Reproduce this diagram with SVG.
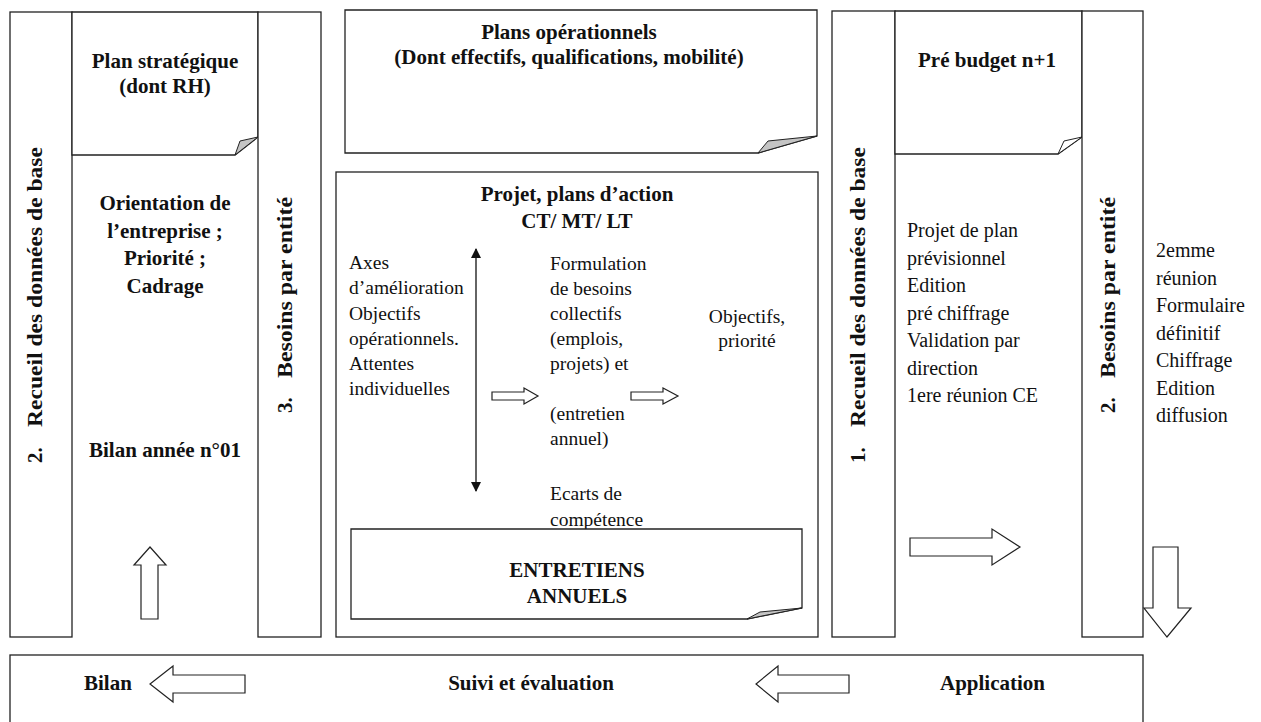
<svg xmlns="http://www.w3.org/2000/svg" width="1261" height="722" viewBox="0 0 1261 722">
<style>
.box{fill:#fff;stroke:#222;stroke-width:1.3}
.curl{fill:#c4c4c4;stroke:#222;stroke-width:1}
.curlw{fill:#fff;stroke:#222;stroke-width:1}
.harrow{fill:#fff;stroke:#222;stroke-width:1.2}
.b{font-family:"Liberation Serif","Times New Roman",serif;font-weight:bold;font-size:21px;fill:#111}
.r{font-family:"Liberation Serif","Times New Roman",serif;font-size:20px;fill:#111}
.rc{font-family:"Liberation Serif","Times New Roman",serif;font-size:19.5px;fill:#111}
.c{text-anchor:middle}
</style>
<defs>
<marker id="ah" viewBox="0 0 10 12" refX="9" refY="6" markerWidth="10" markerHeight="12" markerUnits="userSpaceOnUse" orient="auto-start-reverse">
<path d="M0,1 L10,6 L0,11 Z" fill="#111"/>
</marker>
</defs>
<rect width="1261" height="722" fill="#fff"/>

<g id="left-col1">
<rect class="box" x="10" y="12" width="62" height="625"/>
<text class="b" transform="translate(42,463) rotate(-90)">2.</text>
<text class="b" transform="translate(42,427) rotate(-90)" textLength="280" lengthAdjust="spacingAndGlyphs">Recueil des données de base</text>
</g>

<g id="left-middle">
<path class="box" d="M72,12 H258 V137 L235,155 H72 Z"/>
<path class="curl" d="M235,155 L240,141 L258,137 Z"/>
<text class="b c" x="165" y="68">Plan stratégique</text>
<text class="b c" x="165" y="93">(dont RH)</text>
<text class="b c" x="165" y="210">Orientation de</text>
<text class="b c" x="165" y="238">l’entreprise ;</text>
<text class="b c" x="165" y="265">Priorité ;</text>
<text class="b c" x="165" y="293">Cadrage</text>
<text class="b c" x="165" y="457">Bilan année n°01</text>
<path class="harrow" d="M150,547 L166,565 H158 V619 H141 V565 H134 Z"/>
</g>

<g id="left-col3">
<rect class="box" x="258" y="12" width="63" height="625"/>
<text class="b" transform="translate(292,413) rotate(-90)">3.</text>
<text class="b" transform="translate(292,378) rotate(-90)" textLength="181" lengthAdjust="spacingAndGlyphs">Besoins par entité</text>
</g>

<g id="plans-operationnels">
<path class="box" d="M345,10 H817 V136 L758,153 H345 Z"/>
<path class="curl" d="M758,153 L768,141 L817,136 Z"/>
<text class="b c" x="569" y="39">Plans opérationnels</text>
<text class="b c" x="569" y="64">(Dont effectifs, qualifications, mobilité)</text>
</g>

<g id="projet-plans">
<rect class="box" x="336" y="172" width="482" height="465"/>
<text class="b c" x="577" y="201">Projet, plans d’action</text>
<text class="b c" x="577" y="228">CT/ MT/ LT</text>
<text class="rc" x="349" y="269">Axes</text>
<text class="rc" x="349" y="294">d’amélioration</text>
<text class="rc" x="349" y="320">Objectifs</text>
<text class="rc" x="349" y="345">opérationnels.</text>
<text class="rc" x="349" y="370">Attentes</text>
<text class="rc" x="349" y="395">individuelles</text>
<text class="rc" x="550" y="270">Formulation</text>
<text class="rc" x="550" y="295">de besoins</text>
<text class="rc" x="550" y="320">collectifs</text>
<text class="rc" x="550" y="345">(emplois,</text>
<text class="rc" x="550" y="370">projets) et</text>
<text class="rc" x="550" y="420">(entretien</text>
<text class="rc" x="550" y="445">annuel)</text>
<text class="rc" x="550" y="500">Ecarts de</text>
<text class="rc" x="550" y="526">compétence</text>
<text class="rc c" x="747" y="323">Objectifs,</text>
<text class="rc c" x="747" y="347">priorité</text>
</g>

<g id="entretiens">
<path class="box" d="M351,529 H802 V608 L747,619 H351 Z"/>
<path class="curl" d="M747,619 L760,612 L802,608 Z"/>
<text class="b c" x="577" y="577">ENTRETIENS</text>
<text class="b c" x="577" y="603">ANNUELS</text>
</g>

<g id="right-col1">
<rect class="box" x="832" y="11" width="63" height="626"/>
<text class="b" transform="translate(865,463) rotate(-90)">1.</text>
<text class="b" transform="translate(865,427) rotate(-90)" textLength="280" lengthAdjust="spacingAndGlyphs">Recueil des données de base</text>
</g>

<g id="right-middle">
<path class="box" d="M895,11 H1082 V137 L1058,154 H895 Z"/>
<path class="curlw" d="M1058,154 L1064,141 L1082,137 Z"/>
<text class="b c" x="987" y="67">Pré budget n+1</text>
<text class="r" x="907" y="237">Projet de plan</text>
<text class="r" x="907" y="264.5">prévisionnel</text>
<text class="r" x="907" y="292">Edition</text>
<text class="r" x="907" y="319.5">pré chiffrage</text>
<text class="r" x="907" y="347">Validation par</text>
<text class="r" x="907" y="374.5">direction</text>
<text class="r" x="907" y="402">1ere réunion CE</text>
</g>

<g id="right-col3">
<rect class="box" x="1082" y="11" width="61" height="626"/>
<text class="b" transform="translate(1115,413) rotate(-90)">2.</text>
<text class="b" transform="translate(1115,378) rotate(-90)" textLength="181" lengthAdjust="spacingAndGlyphs">Besoins par entité</text>
</g>

<g id="right-notes">
<text class="r" x="1156" y="257">2emme</text>
<text class="r" x="1156" y="284.5">réunion</text>
<text class="r" x="1156" y="312">Formulaire</text>
<text class="r" x="1156" y="339.5">définitif</text>
<text class="r" x="1156" y="367">Chiffrage</text>
<text class="r" x="1156" y="394.5">Edition</text>
<text class="r" x="1156" y="422">diffusion</text>
</g>

<g id="suivi-bar">
<rect class="box" x="10" y="655" width="1133" height="80"/>
<text class="b" x="84" y="690">Bilan</text>
<text class="b c" x="531" y="690">Suivi et évaluation</text>
<text class="b" x="940" y="690">Application</text>
</g>

<g id="connectors">
<line x1="476" y1="249" x2="476" y2="491" stroke="#111" stroke-width="1.3" marker-start="url(#ah)" marker-end="url(#ah)"/>
<path class="harrow" d="M492,392 H524 V388 L538,396 L524,404 V400 H492 Z"/>
<path class="harrow" d="M631,392 H663 V388 L678,396 L663,404 V400 H631 Z"/>
<path class="harrow" d="M910,538 H992 V529 L1020,547 L992,565 V556 H910 Z"/>
<path class="harrow" d="M1153,547 H1178 V608 H1191 L1167,637 L1144,608 H1153 Z"/>
<path class="harrow" d="M245,675 H173 V666 L150,684 L173,702 V693 H245 Z"/>
<path class="harrow" d="M849,675 H778 V666 L756,684 L778,702 V693 H849 Z"/>
</g>
</svg>
